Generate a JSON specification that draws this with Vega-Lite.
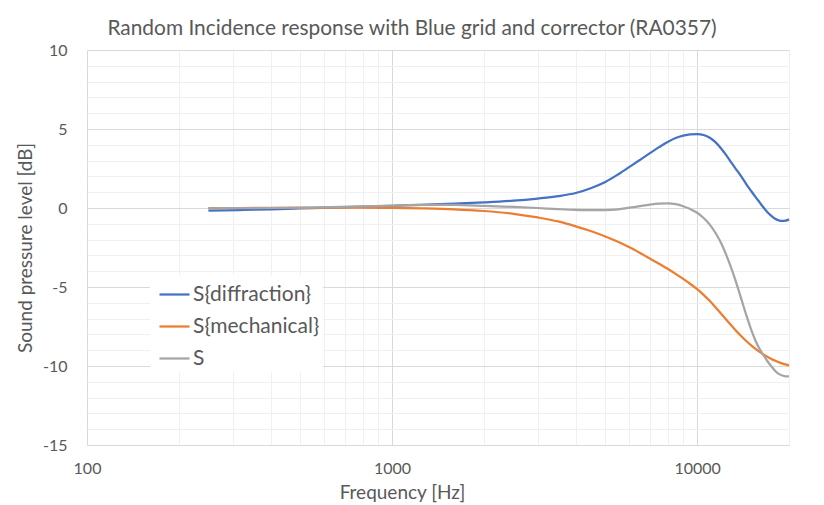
{
  "$schema": "https://vega.github.io/schema/vega-lite/v6.json",
  "width": 702,
  "height": 395,
  "autosize": {"type": "none"},
  "padding": {"left": 87, "top": 50, "right": 35, "bottom": 60},
  "background": "white",
  "config": {
    "font": "Lato",
    "view": {"stroke": null}
  },
  "title": {
    "text": "Random Incidence response with Blue grid and corrector (RA0357)",
    "fontSize": 20.9,
    "fontWeight": "normal",
    "color": "#595959",
    "anchor": "middle",
    "baseline": "alphabetic",
    "offset": 13,
    "dx": -26,
    "dy": 27
  },
  "datasets": {
    "diffraction": [
      {"f": 250, "v": -0.17}, {"f": 315, "v": -0.13}, {"f": 400, "v": -0.08}, {"f": 500, "v": -0.03},
      {"f": 630, "v": 0.02}, {"f": 800, "v": 0.08}, {"f": 1000, "v": 0.14}, {"f": 1250, "v": 0.2},
      {"f": 1600, "v": 0.27}, {"f": 2000, "v": 0.35}, {"f": 2500, "v": 0.46}, {"f": 3000, "v": 0.6},
      {"f": 3500, "v": 0.75}, {"f": 4000, "v": 0.95}, {"f": 4500, "v": 1.27}, {"f": 5000, "v": 1.65},
      {"f": 5500, "v": 2.12}, {"f": 6000, "v": 2.6}, {"f": 6500, "v": 3.05}, {"f": 7000, "v": 3.47},
      {"f": 7500, "v": 3.85}, {"f": 8000, "v": 4.18}, {"f": 8500, "v": 4.43}, {"f": 9000, "v": 4.58},
      {"f": 9500, "v": 4.66}, {"f": 10000, "v": 4.68}, {"f": 10500, "v": 4.62}, {"f": 11000, "v": 4.45},
      {"f": 11500, "v": 4.15}, {"f": 12000, "v": 3.75}, {"f": 12500, "v": 3.3}, {"f": 13000, "v": 2.82},
      {"f": 13500, "v": 2.38}, {"f": 14000, "v": 1.95}, {"f": 14500, "v": 1.5}, {"f": 15000, "v": 1.1},
      {"f": 15500, "v": 0.72}, {"f": 16000, "v": 0.37}, {"f": 16500, "v": 0.03}, {"f": 17000, "v": -0.27},
      {"f": 17500, "v": -0.5}, {"f": 18000, "v": -0.68}, {"f": 18500, "v": -0.78}, {"f": 19000, "v": -0.82},
      {"f": 19500, "v": -0.8}, {"f": 20000, "v": -0.72}
    ],
    "mechanical": [
      {"f": 250, "v": -0.01}, {"f": 315, "v": 0.0}, {"f": 400, "v": 0.01}, {"f": 500, "v": 0.01},
      {"f": 630, "v": 0.02}, {"f": 800, "v": 0.02}, {"f": 1000, "v": 0.01}, {"f": 1250, "v": -0.02},
      {"f": 1600, "v": -0.08}, {"f": 2000, "v": -0.19}, {"f": 2500, "v": -0.37}, {"f": 3000, "v": -0.6},
      {"f": 3500, "v": -0.85}, {"f": 4000, "v": -1.16}, {"f": 4500, "v": -1.47}, {"f": 5000, "v": -1.8},
      {"f": 5500, "v": -2.14}, {"f": 6000, "v": -2.49}, {"f": 6500, "v": -2.85}, {"f": 7000, "v": -3.2},
      {"f": 7500, "v": -3.53}, {"f": 8000, "v": -3.85}, {"f": 8500, "v": -4.17}, {"f": 9000, "v": -4.49},
      {"f": 9500, "v": -4.81}, {"f": 10000, "v": -5.14}, {"f": 10471, "v": -5.48}, {"f": 10965, "v": -5.86},
      {"f": 11482, "v": -6.28}, {"f": 12023, "v": -6.72}, {"f": 12589, "v": -7.17}, {"f": 13183, "v": -7.605},
      {"f": 13804, "v": -8.02}, {"f": 14454, "v": -8.4}, {"f": 15136, "v": -8.74}, {"f": 15849, "v": -9.04},
      {"f": 16596, "v": -9.3}, {"f": 17378, "v": -9.52}, {"f": 18197, "v": -9.7}, {"f": 19055, "v": -9.85},
      {"f": 20000, "v": -9.96}
    ],
    "total": [
      {"f": 250, "v": -0.02}, {"f": 315, "v": -0.01}, {"f": 400, "v": 0.0}, {"f": 500, "v": 0.02},
      {"f": 630, "v": 0.06}, {"f": 800, "v": 0.1}, {"f": 1000, "v": 0.15}, {"f": 1250, "v": 0.19},
      {"f": 1600, "v": 0.19}, {"f": 2000, "v": 0.14}, {"f": 2500, "v": 0.07}, {"f": 3000, "v": 0.0},
      {"f": 3500, "v": -0.07}, {"f": 4000, "v": -0.12}, {"f": 4500, "v": -0.14}, {"f": 5000, "v": -0.13},
      {"f": 5500, "v": -0.08}, {"f": 6000, "v": 0.02}, {"f": 6500, "v": 0.12}, {"f": 7000, "v": 0.21},
      {"f": 7500, "v": 0.27}, {"f": 8000, "v": 0.29}, {"f": 8500, "v": 0.24}, {"f": 9000, "v": 0.11},
      {"f": 9500, "v": -0.07}, {"f": 10000, "v": -0.3}, {"f": 10500, "v": -0.63}, {"f": 11000, "v": -1.05},
      {"f": 11500, "v": -1.6}, {"f": 12000, "v": -2.25}, {"f": 12500, "v": -3.05}, {"f": 13000, "v": -3.92},
      {"f": 13500, "v": -4.87}, {"f": 14000, "v": -5.85}, {"f": 14500, "v": -6.8}, {"f": 15000, "v": -7.65},
      {"f": 15500, "v": -8.35}, {"f": 16000, "v": -8.9}, {"f": 16500, "v": -9.32}, {"f": 17000, "v": -9.7},
      {"f": 17500, "v": -10.02}, {"f": 18000, "v": -10.3}, {"f": 18500, "v": -10.5}, {"f": 19000, "v": -10.6},
      {"f": 19500, "v": -10.65}, {"f": 20000, "v": -10.66}
    ]
  },
  "layer": [
    {
      "data": {"name": "diffraction"},
      "transform": [{"calculate": "'S{diffraction}'", "as": "series"}],
      "mark": {"type": "line", "strokeWidth": 2.25, "interpolate": "monotone"},
      "encoding": {
        "x": {"field": "f", "type": "quantitative"},
        "y": {"field": "v", "type": "quantitative"},
        "color": {"field": "series", "type": "nominal"}
      }
    },
    {
      "data": {"name": "mechanical"},
      "transform": [{"calculate": "'S{mechanical}'", "as": "series"}],
      "mark": {"type": "line", "strokeWidth": 2.25, "interpolate": "monotone"},
      "encoding": {
        "x": {"field": "f", "type": "quantitative"},
        "y": {"field": "v", "type": "quantitative"},
        "color": {"field": "series", "type": "nominal"}
      }
    },
    {
      "data": {"name": "total"},
      "transform": [{"calculate": "'S'", "as": "series"}],
      "mark": {"type": "line", "strokeWidth": 2.25, "interpolate": "monotone"},
      "encoding": {
        "x": {"field": "f", "type": "quantitative"},
        "y": {"field": "v", "type": "quantitative"},
        "color": {"field": "series", "type": "nominal"}
      }
    }
  ],
  "encoding": {
    "x": {
      "field": "f",
      "type": "quantitative",
      "scale": {"type": "log", "domain": [100, 20000], "nice": false},
      "axis": {
        "values": [100, 200, 300, 400, 500, 600, 700, 800, 900, 1000, 2000, 3000, 4000, 5000, 6000, 7000, 8000, 9000, 10000, 20000],
        "labelExpr": "indexof([100,1000,10000], datum.value) >= 0 ? toString(datum.value) : ''",
        "gridColor": {"condition": {"test": "indexof([100,1000,10000], datum.value) >= 0", "value": "#d9d9d9"}, "value": "#f0f0f0"},
        "gridWidth": 1,
        "ticks": false,
        "domainColor": "#d9d9d9",
        "labelFontSize": 16,
        "labelColor": "#595959",
        "labelPadding": 15,
        "labelFlush": false,
        "labelOverlap": false,
        "title": "Frequency [Hz]",
        "titleFontSize": 19,
        "titleFontWeight": "normal",
        "titleColor": "#595959",
        "titleX": 315,
        "titleY": 47,
        "titleBaseline": "middle",
        "titleAlign": "center"
      }
    },
    "y": {
      "field": "v",
      "type": "quantitative",
      "scale": {"domain": [-15, 10], "nice": false, "zero": false},
      "axis": {
        "values": [-15, -14, -13, -12, -11, -10, -9, -8, -7, -6, -5, -4, -3, -2, -1, 0, 1, 2, 3, 4, 5, 6, 7, 8, 9, 10],
        "labelExpr": "datum.value % 5 === 0 ? toString(datum.value) : ''",
        "gridColor": {"condition": {"test": "datum.value % 5 === 0", "value": "#d9d9d9"}, "value": "#f0f0f0"},
        "ticks": false,
        "domain": false,
        "labelFontSize": 16,
        "labelColor": "#595959",
        "labelPadding": 20,
        "labelOverlap": false,
        "title": "Sound pressure level [dB]",
        "titleFontSize": 19,
        "titleFontWeight": "normal",
        "titleColor": "#595959",
        "titleX": -62,
        "titleBaseline": "middle"
      }
    },
    "color": {
      "field": "series",
      "type": "nominal",
      "scale": {"domain": ["S{diffraction}", "S{mechanical}", "S"], "range": ["#4472C4", "#ED7D31", "#A5A5A5"]},
      "legend": {
        "title": null,
        "orient": "none",
        "legendX": 63,
        "legendY": 225,
        "fillColor": "white",
        "padding": 3,
        "symbolOffset": 5,
        "symbolType": "stroke",
        "symbolSize": 900,
        "symbolStrokeWidth": 2.25,
        "labelFontSize": 21,
        "labelColor": "#595959",
        "labelOffset": 2,
        "rowPadding": 5
      }
    }
  }
}
